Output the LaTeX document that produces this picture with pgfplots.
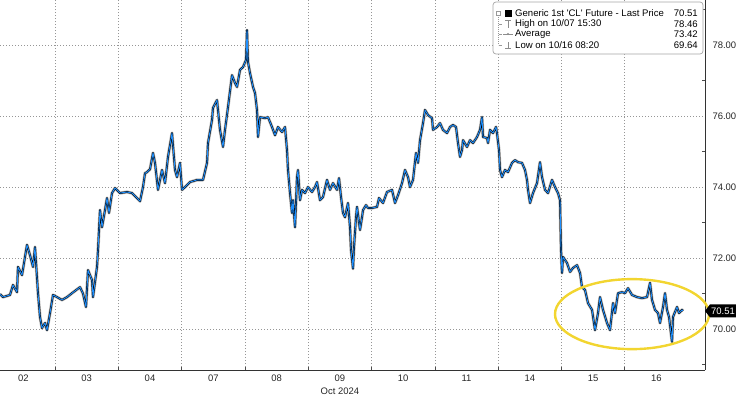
\documentclass[border=0pt]{standalone}
\usepackage{fontspec}
\setmainfont{Liberation Sans}
\usepackage{pgfplots}
\usepackage{pgfplotstable}
\pgfplotsset{compat=1.18}
\definecolor{cblue}{RGB}{30,144,255}
\definecolor{cyel}{RGB}{242,213,48}
\definecolor{gridc}{RGB}{150,150,150}
\newcommand{\fs}{\fontsize{9.5}{10}\selectfont}
\newcommand{\fl}{\fontsize{9.6}{11}\selectfont}

\pgfplotstableread{
x y
0 70.98
3 70.90
10 70.96
13 71.24
17 71.04
18 71.75
22 71.52
27 72.37
30 72.08
33 71.75
35 72.31
38 71.01
40 70.34
42 70.03
45 70.17
47 69.97
50 70.45
53 70.96
57 70.90
62 70.82
67 70.90
72 71.01
80 71.18
83 71.00
86 70.62
88 71.66
92 71.38
93 70.90
97 71.75
98 72.22
100 73.35
102 72.87
105 73.35
107 73.69
109 73.27
112 73.83
115 73.97
120 73.83
127 73.86
132 73.83
137 73.69
140 73.60
143 74.00
145 74.39
147 74.42
150 74.50
153 74.96
155 74.68
158 73.92
162 74.48
165 74.11
168 74.85
172 75.52
175 74.48
177 74.28
180 74.68
182 73.92
185 74.00
190 74.14
197 74.20
203 74.20
207 74.68
208 75.24
212 75.89
213 76.23
217 76.45
220 75.61
223 75.13
225 75.61
228 76.25
232 77.15
235 76.93
237 76.82
240 77.30
243 77.38
246 77.58
247 78.42
248 77.52
250 77.21
253 76.82
255 76.65
257 76.17
258 75.41
260 75.97
265 75.94
268 75.97
272 75.69
275 75.46
278 75.69
282 75.55
285 75.69
287 75.04
288 74.48
290 73.83
292 73.27
293 73.63
295 72.87
297 74.28
298 74.48
300 73.63
302 73.92
305 73.83
308 74.00
312 73.86
315 74.00
317 74.14
320 73.63
323 73.72
327 74.20
330 73.92
333 74.11
337 73.92
339 74.25
341 73.72
343 73.27
345 73.15
348 73.55
350 72.87
351 72.23
353 71.70
354 72.31
356 73.15
357 73.44
360 72.79
362 73.15
363 73.35
366 73.49
368 73.41
372 73.41
377 73.44
379 73.69
383 73.55
387 73.86
392 73.92
395 73.55
398 73.77
402 74.11
405 74.48
408 74.28
410 74.00
413 74.20
416 74.96
418 74.68
420 75.32
423 75.80
425 76.17
428 76.03
432 75.94
433 75.61
437 75.69
440 75.80
443 75.61
447 75.52
450 75.69
453 75.75
456 75.69
458 75.24
460 74.85
462 75.04
463 75.32
467 75.13
470 75.32
473 75.24
477 75.41
480 75.61
482 75.97
483 75.41
487 75.38
488 75.24
490 75.61
493 75.52
496 75.69
497 75.52
499 75.04
500 74.48
502 74.28
505 74.48
508 74.42
512 74.68
515 74.76
518 74.70
522 74.68
525 74.48
527 74.20
528 73.92
530 73.55
533 73.83
537 74.11
540 74.70
542 74.28
545 73.92
548 73.83
552 74.20
555 74.00
558 73.83
560 73.63
561 72.23
562 71.58
563 72.03
567 71.86
570 71.61
573 71.72
577 71.80
580 71.58
582 71.18
585 71.10
588 70.73
592 70.54
595 69.97
598 70.45
600 70.90
603 70.54
607 70.17
610 69.97
613 70.73
615 70.45
618 71.01
622 71.04
625 71.01
628 71.15
632 70.96
637 70.90
642 70.87
647 70.90
650 71.30
652 70.82
655 70.54
658 70.45
660 70.17
663 70.62
665 71.01
667 70.54
669 70.34
672 69.64
673 70.34
677 70.62
679 70.45
682 70.54
683 70.51
}\pricedata

\begin{document}
\begin{tikzpicture}[x=1bp,y=1bp]
\begin{axis}[
  at={(0,0)}, anchor=south west,
  scale only axis, width=705bp, height=370bp,
  xmin=0, xmax=705, ymin=68.845, ymax=79.268,
  axis x line*=bottom, axis y line*=right,
  axis line style={-, black!80, line width=0.8bp},
  clip=false,
  no markers,
  xtick={23.4,86.7,150,213.3,276.6,339.9,403.2,466.5,529.8,593.1,656.4},
  xticklabels={02,03,04,07,08,09,10,11,14,15,16},
  minor xtick={55,118.3,181.6,244.9,308.2,371.5,434.8,498.1,561.4,624.7},
  ytick={70,72,74,76,78},
  minor ytick={69,71,73,75,77,79},
  xminorgrids, ymajorgrids,
  minor x grid style={gridc, line width=0.6bp, dash pattern=on 0.8bp off 2.2bp},
  major y grid style={gridc, line width=0.6bp, dash pattern=on 0.8bp off 2.2bp},
  major tick length=0pt,
  minor tick length=3bp,
  minor tick style={black!70, line width=0.6bp},
  yticklabel pos=right,
  /pgf/number format/assume math mode=true,
  yticklabel style={/pgf/number format/fixed, /pgf/number format/fixed zerofill,
    /pgf/number format/precision=2, font=\fs, text=black!85, anchor=west, xshift=4bp},
  xticklabel style={font=\fs, text=black!85, yshift=-1bp},
]
\addplot[gray!55, line width=3.2bp, line join=round] table[x=x,y=y]{\pricedata};
\addplot[black, line width=1.8bp, line join=round] table[x=x,y=y]{\pricedata};
\addplot[cblue, line width=0.9bp, line join=round] table[x=x,y=y]{\pricedata};

\pgfplotsinvokeforeach{70,72,74,76,78}{
  \fill[black!85] (axis cs:705,#1) ++(0,2.5bp) -- ++(5bp,-2.5bp) -- ++(-5bp,-2.5bp) -- cycle;
}
\draw[cyel, line width=2.4bp] (axis cs:632,70.42) ellipse [x radius=77, y radius=0.986];
\end{axis}

% last price tag (70.51)
\fill[black] (705,59.1) -- (710,65.6) -- (736,65.6) -- (736,52.6) -- (710,52.6) -- cycle;
\node[text=white, font=\fs, inner sep=0] at (723,59.1) {70.51};

% legend box
\draw[gray!70, fill=white, rounded corners=3bp, line width=0.7bp] (493,316) rectangle (703,368);
\draw[gray!80, line width=0.5bp] (496.5,355) rectangle (500.5,359);
\fill[black] (505,353.5) rectangle (512,360.5);
\draw[gray!80, line width=0.5bp, dash pattern=on 1bp off 1bp] (498.5,355) -- (498.5,325);
\draw[gray!80, line width=0.5bp] (498.5,346) -- (502,346) (498.5,336) -- (502,336) (498.5,325) -- (502,325);
% high symbol
\draw[gray!90, line width=0.6bp] (505,349.5) -- (511,349.5) (508,349.5) -- (508,342.5);
% average symbol
\draw[gray!90, line width=0.6bp] (503,336) -- (513,336);
\fill[gray!90] (508,336) circle (1.2bp);
% low symbol
\draw[gray!90, line width=0.6bp] (505,321.5) -- (511,321.5) (508,321.5) -- (508,328.5);
\node[anchor=west, font=\fl, inner sep=0] at (515,357) {Generic 1st \textquotesingle CL\textquotesingle\ Future - Last Price};
\node[anchor=west, font=\fl, inner sep=0] at (515,346) {High on 10/07 15:30};
\node[anchor=west, font=\fl, inner sep=0] at (515,336) {Average};
\node[anchor=west, font=\fl, inner sep=0] at (515,325) {Low on 10/16 08:20};
\node[anchor=east, font=\fl, inner sep=0] at (698,357) {70.51};
\node[anchor=east, font=\fl, inner sep=0] at (698,346) {78.46};
\node[anchor=east, font=\fl, inner sep=0] at (698,336) {73.42};
\node[anchor=east, font=\fl, inner sep=0] at (698,325) {69.64};

\node[font=\fs, text=black!85] at (339.9,-21) {Oct 2024};

\pgfresetboundingbox
\useasboundingbox (0,-25) rectangle (736,370);
\end{tikzpicture}
\end{document}
